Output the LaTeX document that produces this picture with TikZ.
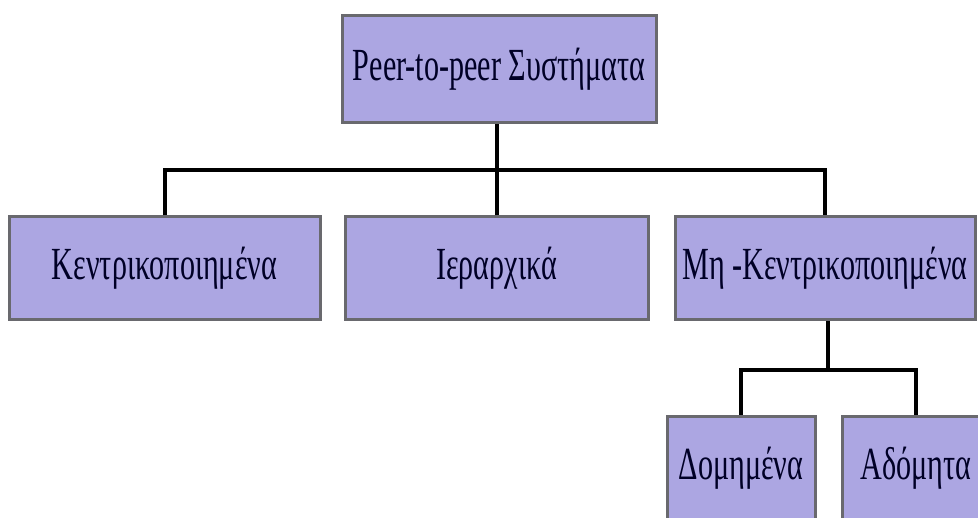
\documentclass[tikz,border=0pt]{standalone}
\usepackage{graphicx}
\usepackage{fontspec}
\setmainfont{Liberation Serif}
\definecolor{boxfill}{RGB}{172,166,226}
\definecolor{boxedge}{RGB}{105,105,110}
\newcommand\sqz[1]{\scalebox{0.655}[1]{#1}}
\tikzset{
  pbox/.style={draw=boxedge, line width=3pt, fill=boxfill, inner sep=0pt,
    minimum height=103pt, font=\fontsize{46}{46}\selectfont, text=black!85!blue},
  conn/.style={line width=4pt, black}
}
\begin{document}
\begin{tikzpicture}[x=1pt,y=1pt]
\useasboundingbox (0,0) rectangle (978,518);
\fill[white] (0,0) rectangle (978,518);
\clip (0,0) rectangle (978,518);
\node[pbox, minimum width=314pt, minimum height=107pt] (top) at (499,448.5) {\sqz{Peer-to-peer Συστήματα}};
\node[pbox, minimum width=311pt] (A) at (164.5,249.5) {\sqz{Κεντρικοποιημένα}};
\node[pbox, minimum width=303pt] (B) at (496.5,249.5) {\sqz{Ιεραρχικά}};
\node[pbox, minimum width=300pt] (C) at (825,249.5) {\sqz{Μη -Κεντρικοποιημένα}};
\node[pbox, minimum width=148pt] (D) at (741,50) {\sqz{Δομημένα}};
\node[pbox, minimum width=148pt] (E) at (916,50) {\sqz{Αδόμητα}};
\coordinate (bar1) at (497,348);
\coordinate (bar2) at (828,148);
\draw[conn] (top.south -| bar1) -- (bar1);
\draw[conn] (A.north) -- (A.north |- bar1) -- (C.north |- bar1) -- (C.north);
\draw[conn] (B.north -| bar1) -- (bar1);
\draw[conn] (C.south -| bar2) -- (bar2);
\draw[conn] (D.north) -- (D.north |- bar2) -- (E.north |- bar2) -- (E.north);
\end{tikzpicture}
\end{document}
